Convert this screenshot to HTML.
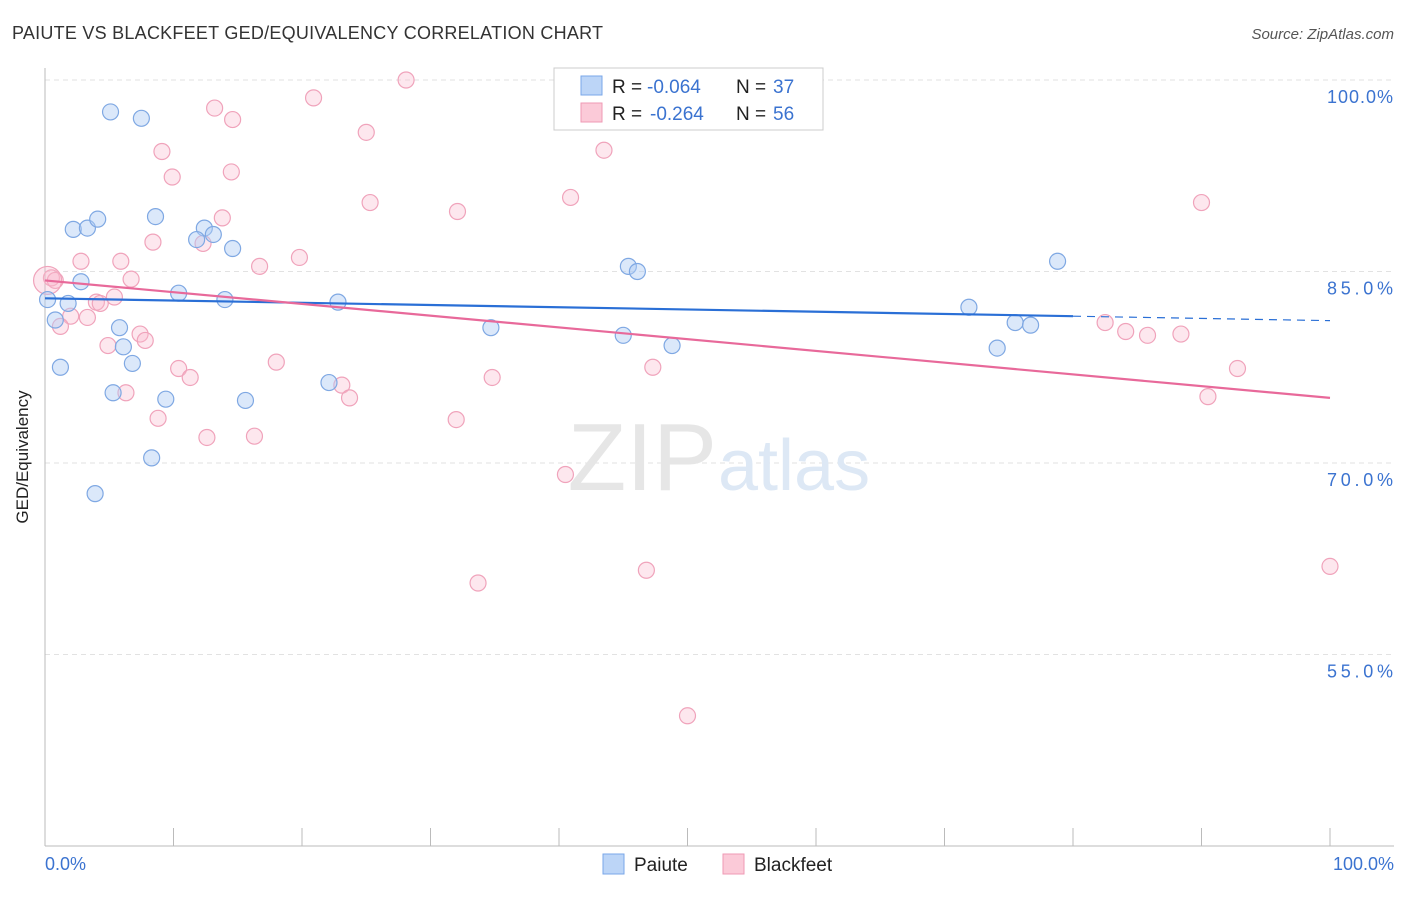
<!DOCTYPE html>
<html><head><meta charset="utf-8"><style>
body{margin:0;background:#fff;font-family:"Liberation Sans",sans-serif;}
svg text{font-family:"Liberation Sans",sans-serif;}
</style></head><body>
<svg width="1406" height="892" viewBox="0 0 1406 892">
<text x="12" y="39" font-size="18" fill="#333" textLength="591">PAIUTE VS BLACKFEET GED/EQUIVALENCY CORRELATION CHART</text>
<text x="1394" y="39" font-size="15" fill="#555" font-style="italic" text-anchor="end">Source: ZipAtlas.com</text>
<g id="grid"></g>
<text x="717" y="490" font-size="96" fill="#e6e6e6" font-family="Liberation Serif" text-anchor="end">ZIP</text>
<text x="718" y="490" font-size="72" fill="#dde8f5">atlas</text>
<line x1="45" y1="68" x2="45" y2="846" stroke="#bbb"/>
<line x1="45" y1="846" x2="1394" y2="846" stroke="#bbb"/>
<g id="xticks"></g>
<text x="28" y="457" font-size="17" fill="#222" text-anchor="middle" transform="rotate(-90 28 457)">GED/Equivalency</text>
<text x="45" y="870" font-size="18" fill="#3b73d0">0.0%</text>
<text x="1394" y="870" font-size="18" fill="#3b73d0" text-anchor="end">100.0%</text>
<g id="pts"></g>
<g id="trend"></g>
<g>
<rect x="554" y="68" width="269" height="62" fill="#fff" stroke="#ccc"/>
<rect x="581" y="76" width="21" height="19" fill="#bcd5f7" stroke="#7aa7e8"/>
<rect x="581" y="103" width="21" height="19" fill="#fbcad8" stroke="#ef9ab4"/>
<text x="612" y="93" font-size="19" fill="#222">R = <tspan fill="#3b73d0" x="647">-0.064</tspan><tspan x="736">N = </tspan><tspan fill="#3b73d0" x="773">37</tspan></text>
<text x="612" y="120" font-size="19" fill="#222">R = <tspan fill="#3b73d0" x="650">-0.264</tspan><tspan x="736">N = </tspan><tspan fill="#3b73d0" x="773">56</tspan></text>
</g>
<g>
<rect x="603" y="854" width="21" height="20" fill="#bcd5f7" stroke="#7aa7e8"/>
<text x="634" y="871" font-size="19" fill="#222">Paiute</text>
<rect x="723" y="854" width="21" height="20" fill="#fbcad8" stroke="#ef9ab4"/>
<text x="754" y="871" font-size="19" fill="#222">Blackfeet</text>
</g>
</svg>
<script>
const yTicks=[100,85,70,55];
const paiuteX=[5.1,7.5,2.2,3.3,4.1,8.6,12.4,13.1,11.8,14.6,2.8,0.2,1.8,0.8,10.4,14.0,22.8,5.8,6.1,1.2,6.8,5.3,9.4,15.6,22.1,8.3,3.9,34.7,45.4,46.1,45.0,48.8,78.8,71.9,75.5,76.7,74.1];
const paiuteY=[97.5,97.0,88.3,88.4,89.1,89.3,88.4,87.9,87.5,86.8,84.2,82.8,82.5,81.2,83.3,82.8,82.6,80.6,79.1,77.5,77.8,75.5,75.0,74.9,76.3,70.4,67.6,80.6,85.4,85.0,80.0,79.2,85.8,82.2,81.0,80.8,79.0];
const blackX=[28.1,20.9,13.2,14.6,25.0,9.1,43.5,9.9,14.5,25.3,40.9,32.1,13.8,90.0,8.4,12.3,2.8,5.9,16.7,19.8,6.7,0.5,0.8,4.0,4.3,5.4,2.0,3.3,1.2,4.9,7.4,7.8,18.0,10.4,11.3,23.1,23.7,6.3,8.8,12.6,16.3,32.0,34.8,47.3,40.5,33.7,46.8,50.0,82.5,84.1,85.8,88.4,92.8,90.5,100,0.2];
const blackY=[100,98.6,97.8,96.9,95.9,94.4,94.5,92.4,92.8,90.4,90.8,89.7,89.2,90.4,87.3,87.2,85.8,85.8,85.4,86.1,84.4,84.5,84.3,82.6,82.5,83.0,81.5,81.4,80.7,79.2,80.1,79.6,77.9,77.4,76.7,76.1,75.1,75.5,73.5,72.0,72.1,73.4,76.7,77.5,69.1,60.6,61.6,50.2,81.0,80.3,80.0,80.1,77.4,75.2,61.9,84.3];
const paiuteTrend=[82.9,-0.0175];
const blackTrend=[84.3,-0.092];
const NS='http://www.w3.org/2000/svg';
const X=v=>45+v*12.85, Y=v=>80+(100-v)*191.5/15;
function mk(t,a,p){const e=document.createElementNS(NS,t);for(const k in a)e.setAttribute(k,a[k]);p.appendChild(e);return e;}
const grid=document.getElementById('grid');
yTicks.forEach(t=>{
const l=mk('line',{x1:45,x2:1394,y1:Y(t),y2:Y(t),stroke:'#e2e2e2','stroke-dasharray':'5,4'},grid);


const tx=mk('text',{x:1393,y:Y(t)+23,'font-size':18,fill:'#3b73d0','text-anchor':'end',textLength:66},grid);
tx.textContent=t.toFixed(1)+'%';


});
const xt=document.getElementById('xticks');
for(let i=1;i<=10;i++){const l=mk('line',{x1:X(i*10),x2:X(i*10),y1:828,y2:846,stroke:'#bbb'},xt);

}
const pts=document.getElementById('pts');
blackX.forEach((x,i)=>{const c=mk('circle',{cx:X(x),cy:Y(blackY[i]),r:i==blackX.length-1?14:8,fill:'rgba(248,187,206,0.35)',stroke:'#f0a3bb','stroke-width':1.2},pts);

});
paiuteX.forEach((x,i)=>{const c=mk('circle',{cx:X(x),cy:Y(paiuteY[i]),r:8,fill:'rgba(176,204,244,0.45)',stroke:'#7fa8e3','stroke-width':1.2},pts);

});
const tr=document.getElementById('trend');
const f=(t,x)=>t[0]+t[1]*x;
let l1=mk('line',{x1:X(0),y1:Y(f(paiuteTrend,0)),x2:X(80),y2:Y(f(paiuteTrend,80)),stroke:'#2a6fd6','stroke-width':2.2},tr);


let l2=mk('line',{x1:X(80),y1:Y(f(paiuteTrend,80)),x2:X(100),y2:Y(f(paiuteTrend,100)),stroke:'#2a6fd6','stroke-width':1.2,'stroke-dasharray':'8,6'},tr);


let l3=mk('line',{x1:X(0),y1:Y(f(blackTrend,0)),x2:X(100),y2:Y(f(blackTrend,100)),stroke:'#e8699a','stroke-width':2.2},tr);


</script>
</body></html>
